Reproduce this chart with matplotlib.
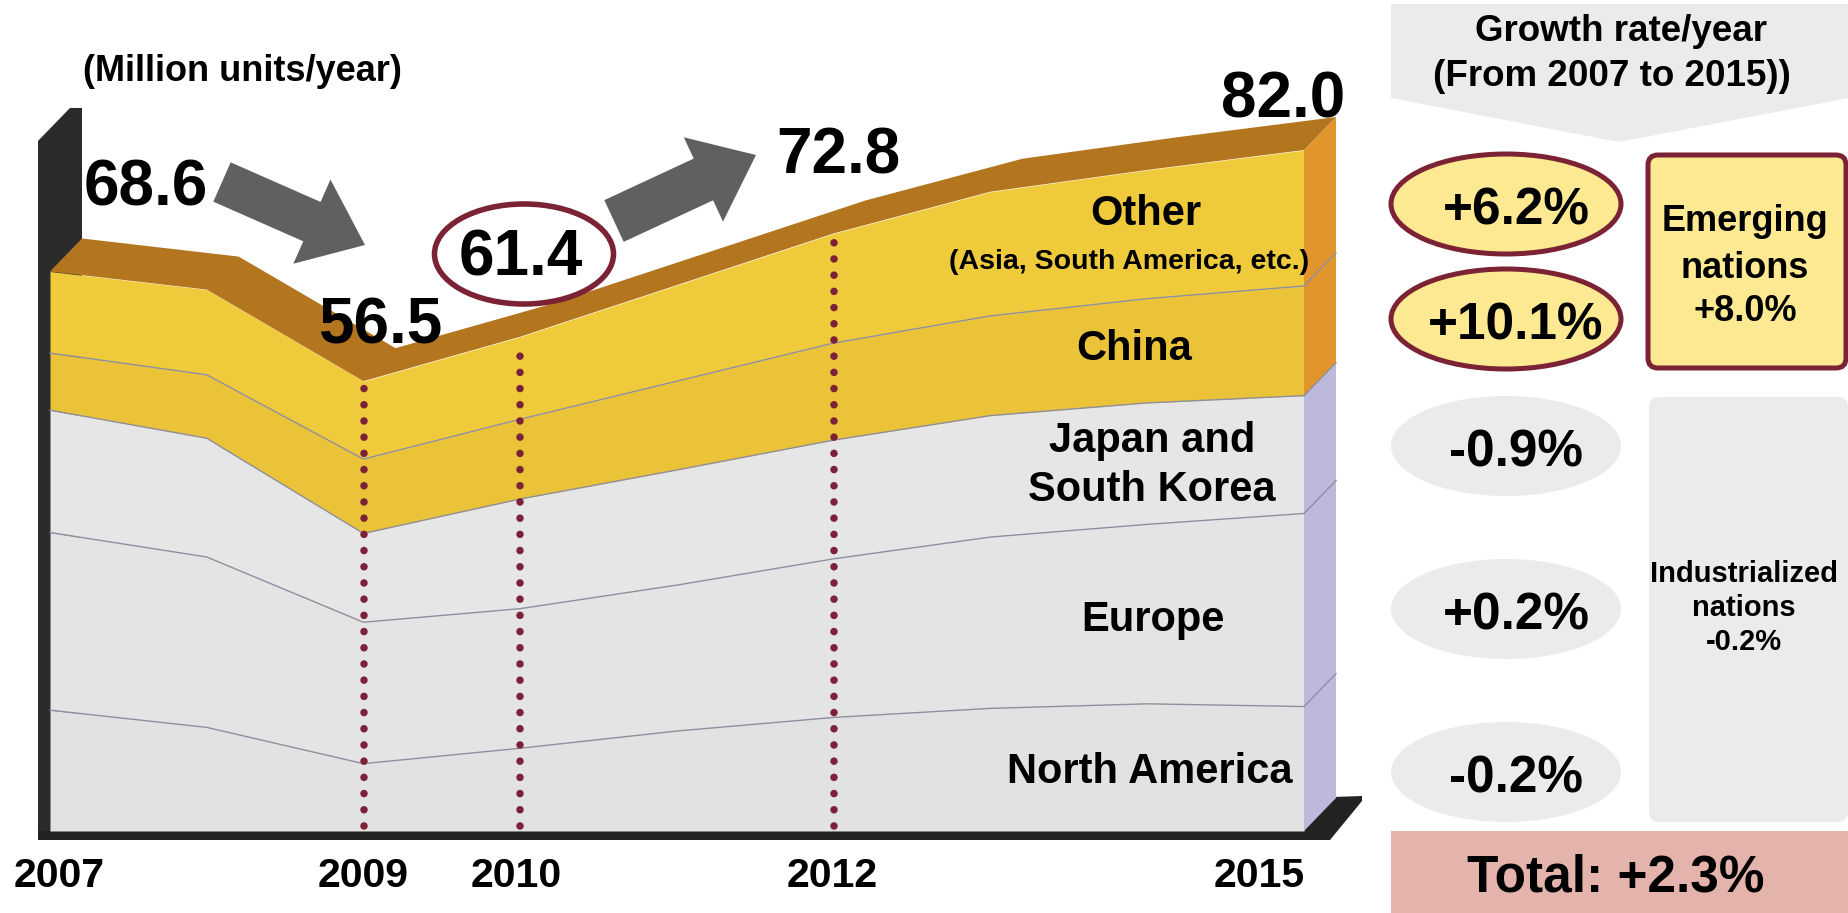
import numpy as np
import matplotlib.pyplot as plt
import matplotlib.transforms as mtransforms
from matplotlib.patches import Polygon, Ellipse, FancyArrow, FancyBboxPatch, Rectangle

plt.rcParams["font.family"] = ["Liberation Sans", "DejaVu Sans"]
plt.rcParams["font.weight"] = "bold"

# production by region, million units/year
years = [2007, 2008, 2009, 2010, 2011, 2012, 2013, 2014, 2015]
north_america = [20.2, 18.3, 14.3, 16.0, 17.9, 19.4, 20.4, 20.9, 20.6]
europe = [19.6, 18.8, 15.6, 15.4, 16.1, 17.5, 18.9, 19.8, 21.3]
japan_korea = [13.5, 13.1, 9.8, 12.1, 12.7, 13.1, 13.4, 13.4, 13.0]
china = [6.3, 7.0, 8.2, 8.8, 9.8, 10.7, 11.0, 11.5, 12.1]
other = [9.0, 9.4, 8.6, 9.1, 10.6, 12.1, 13.7, 14.2, 15.0]

labeled_years = [2007, 2009, 2010, 2012, 2015]
marked_years = [2009, 2010, 2012]

# annual growth 2007 -> 2015, %
region_rates = [6.2, 10.1, -0.9, 0.2, -0.2]  # other, china, japan/korea, europe, north america
emerging_rate = 8.0
industrial_rate = -0.2
total_rate = 2.3

W, H = 1849, 913
fig = plt.figure(figsize=(W / 100, H / 100), dpi=100)
fig.patch.set_facecolor("white")

# chart axes: 2007 sits at px 50, 2015 at px 1304, floor at px 831
X0, PX_YEAR = 50, 156.75
FLOOR, PX_UNIT, BASE = 6.87, 9.064, 831
Y_TOP = 83.0
ax = fig.add_axes([0, 0, 1, 1])
ax.set_xlim(2007 - X0 / PX_YEAR, 2007 + (W - X0) / PX_YEAR)
ax.set_ylim(FLOOR - (H - BASE) / PX_UNIT, FLOOR + BASE / PX_UNIT)
ax.axis("off")

layers = [north_america, europe, japan_korea, china, other]
front_colors = ["#E2E2E2", "#E4E4E4", "#E6E6E6", "#EBC338", "#EFCB3C"]
side_colors = ["#BDB9DC", "#BDB9DC", "#BDB9DC", "#E2952C", "#E2952C"]
cum = np.cumsum(np.vstack([np.zeros(len(years)), layers]), axis=0)
totals = cum[-1]

ident = mtransforms.IdentityTransform()
to_disp = ax.transData.transform
DX, DY = 32, 33  # depth of the extrusion, px

x0, yb = to_disp((2007, FLOOR))
xr, _ = to_disp((2015, FLOOR))
_, ywt = to_disp((2007, Y_TOP))

# back wall and floor slabs
wall = [(x0 - 12, yb - 9), (x0 - 12, ywt), (x0 - 12 + DX, ywt + DY),
        (x0 + DX, ywt + DY), (x0 + DX, yb + DY), (x0, yb)]
ax.add_patch(Polygon(wall, closed=True, transform=ident, fc="#2B2B2B", ec="none", zorder=1))
floor = [(x0 - 12, yb), (x0 - 12, yb - 9), (xr + 26, yb - 9),
         (xr + 26 + DX, yb - 9 + DY + 6), (xr + 26 + DX, yb + DY + 2), (xr, yb + DY)]
ax.add_patch(Polygon(floor, closed=True, transform=ident, fc="#222222", ec="none", zorder=1))

# front faces of the stack
for i in range(len(layers)):
    ax.fill_between(years, np.maximum(cum[i], FLOOR), cum[i + 1],
                    color=front_colors[i], lw=0, zorder=3)
for i in range(1, len(layers)):
    ax.plot(years, cum[i], color="#8E8E9E", lw=1, zorder=4)

# right side face
for i in range(len(layers)):
    lo = to_disp((2015, max(cum[i][-1], FLOOR)))
    hi = to_disp((2015, cum[i + 1][-1]))
    quad = [lo, hi, hi + (DX, DY), lo + (DX, DY)]
    ax.add_patch(Polygon(quad, closed=True, transform=ident,
                         fc=side_colors[i], ec="none", zorder=3))
    if i > 0:
        ax.plot([lo[0], lo[0] + DX], [lo[1], lo[1] + DY], transform=ident,
                color="#8E8E9E", lw=1, zorder=4)

# top face
top_front = to_disp(np.column_stack([years, totals]))
top_back = top_front + (DX, DY)
ax.add_patch(Polygon(np.vstack([top_front, top_back[::-1]]), closed=True,
                     transform=ident, fc="#B3761F", ec="none", zorder=5))

# dotted year markers
for yr in marked_years:
    t = totals[years.index(yr)]
    ax.plot([yr, yr], [FLOOR + 0.5, t - 0.6], color="#7B2238", lw=5.4,
            linestyle=(0, (0.01, 2.15)), dash_capstyle="round", zorder=6)

# overlay in pixel coordinates for labels and the side panel
ov = fig.add_axes([0, 0, 1, 1], zorder=2)
ov.set_xlim(0, W)
ov.set_ylim(H, 0)
ov.axis("off")


def label(x, yc, s, size, ha="center", **kw):
    ov.text(x, yc + 0.36 * size * 100 / 72, s, fontsize=size, ha=ha,
            va="baseline", fontweight="bold", **kw)


label(83, 68, "(Million units/year)", 26, ha="left")

# totals
total_pos = {2007: (146, 183), 2009: (380, 321), 2010: (521, 253),
             2012: (838, 150), 2015: (1283, 94)}
for yr in labeled_years:
    x, y = total_pos[yr]
    label(x, y, f"{totals[years.index(yr)]:.1f}", 46)
ov.add_patch(Ellipse((524, 254), 179, 100, fill=False, ec="#7B2335", lw=4))

ov.add_patch(FancyArrow(222, 182, 143, 63, width=43, head_width=92, head_length=58,
                        length_includes_head=True, fc="#606060", ec="none"))
ov.add_patch(FancyArrow(614, 221, 142, -66, width=46, head_width=93, head_length=58,
                        length_includes_head=True, fc="#606060", ec="none"))

# region names
label(1146, 210, "Other", 30)
label(1129, 259, "(Asia, South America, etc.)", 20.5)
label(1134, 345, "China", 30)
label(1152, 437, "Japan and", 30)
label(1152, 486, "South Korea", 30)
label(1153, 616, "Europe", 30)
label(1150, 768, "North America", 30)

# year ticks
tick_shift = {2007: 9, 2009: 0, 2010: -4, 2012: -2, 2015: -45}
for yr in labeled_years:
    xpx = to_disp((yr, FLOOR))[0] + tick_shift[yr]
    label(xpx, 872, str(yr), 29.5)

# side panel
ov.add_patch(Polygon([(1391, 4), (1849, 4), (1849, 98), (1619, 142), (1391, 98)],
                     closed=True, fc="#EBEBEB", ec="none"))
label(1621, 28, "Growth rate/year", 26.5)
label(1612, 73, "(From 2007 to 2015))", 26.5)

badge_y = [204, 319, 446, 609, 772]
for k, (r, yc) in enumerate(zip(region_rates, badge_y)):
    if k < 2:
        ov.add_patch(Ellipse((1506, yc), 230, 100, fc="#FDE991", ec="#7B2335", lw=3.6))
    else:
        ov.add_patch(Ellipse((1506, yc), 230, 100, fc="#EBEBEB", ec="none"))
    label(1516, yc + 2, f"{r:+.1f}%", 37)

ov.add_patch(FancyBboxPatch((1648, 155), 198, 213, boxstyle="round,pad=0,rounding_size=10",
                            fc="#FDE991", ec="#7B2335", lw=3.6))
label(1745, 218, "Emerging", 26)
label(1745, 265, "nations", 26)
label(1745, 308, f"{emerging_rate:+.1f}%", 26)

ov.add_patch(FancyBboxPatch((1649, 397), 199, 425, boxstyle="round,pad=0,rounding_size=10",
                            fc="#EBEBEB", ec="none"))
label(1744, 572, "Industrialized", 21)
label(1744, 605, "nations", 21)
label(1744, 640, f"{industrial_rate:+.1f}%", 21)

ov.add_patch(Rectangle((1391, 831), 458, 82, fc="#E4B4AC", ec="none"))
label(1616, 873, f"Total: {total_rate:+.1f}%", 37)

fig.savefig("out.png", dpi=100, facecolor="white")
